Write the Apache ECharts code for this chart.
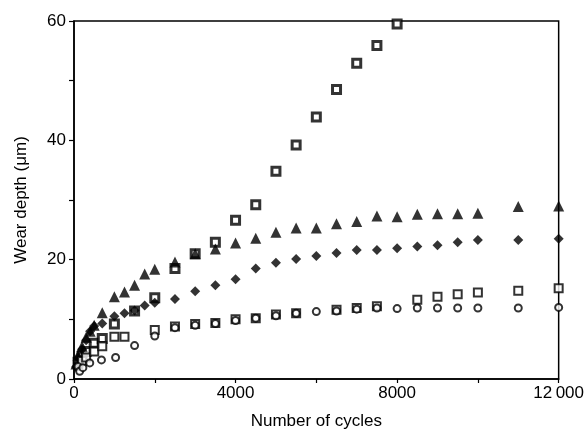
<!DOCTYPE html>
<html>
<head>
<meta charset="utf-8">
<script src="https://cdn.jsdelivr.net/npm/echarts@6/dist/echarts.min.js"></script>
<style>
html, body { margin: 0; padding: 0; background: #fff; }
#chart-container { width: 587px; height: 435px; }
</style>
</head>
<body>
<div id="chart-container"></div>
<script>
// cycles / wear depth (um)
let boxDotX = [100, 200, 300, 500, 700, 1000, 1500, 2000, 2500, 3000, 3500, 4000, 4500, 5000, 5500, 6000, 6500, 7000, 7500, 8000];
let boxDotY = [2.8, 3.8, 4.6, 6.0, 6.8, 9.2, 11.4, 13.6, 18.5, 21.0, 22.9, 26.6, 29.2, 34.8, 39.2, 43.9, 48.5, 52.9, 55.9, 59.5];

let triX = [50, 100, 200, 300, 400, 500, 700, 1000, 1250, 1500, 1750, 2000, 2500, 3000, 3500, 4000, 4500, 5000, 5500, 6000, 6500, 7000, 7500, 8000, 8500, 9000, 9500, 10000, 11000, 12000];
let triY = [2.5, 4.0, 5.5, 7.0, 8.0, 9.0, 11.1, 13.8, 14.6, 15.7, 17.6, 18.4, 19.6, 21.0, 21.8, 22.8, 23.6, 24.6, 25.3, 25.3, 26.0, 26.4, 27.3, 27.2, 27.6, 27.7, 27.7, 27.8, 28.9, 29.0];

let diaX = [50, 100, 200, 300, 400, 500, 700, 1000, 1250, 1500, 1750, 2000, 2500, 3000, 3500, 4000, 4500, 5000, 5500, 6000, 6500, 7000, 7500, 8000, 8500, 9000, 9500, 10000, 11000, 12000];
let diaY = [2.0, 3.5, 5.0, 6.5, 8.0, 8.9, 9.3, 10.5, 11.0, 11.5, 12.3, 12.8, 13.4, 14.7, 15.7, 16.7, 18.5, 19.5, 20.1, 20.6, 21.1, 21.6, 21.6, 21.9, 22.2, 22.4, 22.9, 23.3, 23.3, 23.5];

let boxX = [200, 300, 500, 700, 1000, 1250, 2000, 2500, 3000, 3500, 4000, 4500, 5000, 5500, 6500, 7000, 7500, 8500, 9000, 9500, 10000, 11000, 12000];
let boxY = [3.0, 3.6, 4.6, 5.5, 7.1, 7.1, 8.2, 8.8, 9.2, 9.4, 10.0, 10.2, 10.8, 11.0, 11.6, 11.9, 12.2, 13.3, 13.8, 14.2, 14.5, 14.8, 15.2];

let circX = [100, 140, 220, 390, 680, 1030, 1500, 2000, 2500, 3000, 3500, 4000, 4500, 5000, 5500, 6000, 6500, 7000, 7500, 8000, 8500, 9000, 9500, 10000, 11000, 12000];
let circY = [2.1, 1.3, 1.9, 2.7, 3.2, 3.6, 5.6, 7.2, 8.6, 9.0, 9.3, 9.8, 10.2, 10.6, 11.0, 11.3, 11.4, 11.7, 11.9, 11.8, 11.9, 11.9, 11.9, 11.9, 11.9, 12.0];

let xTicks = [0, 4000, 8000, 12000];
let xTickText = ['0', '4000', '8000', '12\u2009000'];
let yTicks = [0, 20, 40, 60];

function pairs(xs, ys) {
    return xs.map(function(x, i) { return [x, ys[i]]; });
}

let dom = document.getElementById('chart-container');
let myChart = echarts.init(dom, null, { renderer: 'canvas' });

let font = 'Liberation Sans, Arial, sans-serif';
let option = {
    animation: false,
    grid: {
        left: 74, right: 27, top: 21, bottom: 54,
        show: true, borderColor: '#000', borderWidth: 1.5
    },
    xAxis: {
        type: 'value', min: 0, max: 12000, interval: 2000,
        name: 'Number of cycles', nameLocation: 'middle', nameGap: 34,
        nameTextStyle: { fontFamily: font, fontSize: 17, color: '#000' },
        axisLine: { lineStyle: { color: '#000', width: 1.5 } },
        axisTick: { inside: false, length: 4, lineStyle: { color: '#000', width: 1.2 } },
        splitLine: { show: false },
        axisLabel: {
            fontFamily: font, fontSize: 17, color: '#000', margin: 6,
            formatter: function(v) {
                let i = xTicks.indexOf(v);
                return i >= 0 ? xTickText[i] : '';
            }
        }
    },
    yAxis: {
        type: 'value', min: 0, max: 60, interval: 10,
        name: 'Wear depth (\u03bcm)', nameLocation: 'middle', nameGap: 44, nameRotate: 90,
        nameTextStyle: { fontFamily: font, fontSize: 17, color: '#000' },
        axisLine: { lineStyle: { color: '#000', width: 1.5 } },
        axisTick: { inside: false, length: 5, lineStyle: { color: '#000', width: 1.2 } },
        splitLine: { show: false },
        axisLabel: {
            fontFamily: font, fontSize: 17, color: '#000', margin: 8,
            formatter: function(v) { return yTicks.indexOf(v) >= 0 ? String(v) : ''; }
        }
    },
    series: [
        {
            name: 'dotted square', type: 'scatter', symbol: 'rect', symbolSize: 8,
            itemStyle: { color: '#fff', borderColor: '#000', borderWidth: 3 },
            data: pairs(boxDotX, boxDotY)
        },
        {
            name: 'triangle', type: 'scatter', symbol: 'triangle', symbolSize: 11,
            itemStyle: { color: '#000' },
            data: pairs(triX, triY)
        },
        {
            name: 'diamond', type: 'scatter', symbol: 'diamond', symbolSize: 10,
            itemStyle: { color: '#000' },
            data: pairs(diaX, diaY)
        },
        {
            name: 'square', type: 'scatter', symbol: 'rect', symbolSize: 8,
            itemStyle: { color: '#fff', borderColor: '#000', borderWidth: 2 },
            data: pairs(boxX, boxY)
        },
        {
            name: 'circle', type: 'scatter', symbol: 'circle', symbolSize: 7,
            itemStyle: { color: '#fff', borderColor: '#000', borderWidth: 2 },
            data: pairs(circX, circY)
        }
    ]
};

myChart.setOption(option);
window.addEventListener('resize', myChart.resize);
</script>
</body>
</html>
